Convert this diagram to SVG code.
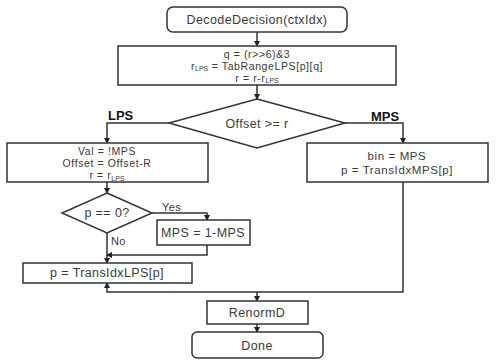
<svg xmlns="http://www.w3.org/2000/svg" width="497" height="361" viewBox="0 0 497 361">
<defs>
<marker id="ah" markerWidth="6" markerHeight="6" refX="5" refY="3" orient="auto" markerUnits="userSpaceOnUse">
<path d="M0,0 L6,3 L0,6 Z" fill="#222"/>
</marker>
<style>
.box{fill:#fff;stroke:#333;stroke-width:1.5}
.ln{fill:none;stroke:#333;stroke-width:1.5;marker-end:url(#ah)}
text{font-family:"Liberation Sans","Noto Sans CJK KR",sans-serif;font-size:12.5px;letter-spacing:0.4px;fill:#3a3a3a;text-anchor:middle}
.ml{font-size:10.5px;letter-spacing:0.6px}
.sub{font-size:7px;letter-spacing:0}
.lbl{font-weight:bold;font-size:13px;letter-spacing:0;fill:#111;text-anchor:start}
.sm{font-size:11px;text-anchor:start}
</style>
</defs>
<rect width="497" height="361" fill="#fff"/>
<g id="connectors">
<path class="ln" d="M257,32 L257,46"/>
<path class="ln" d="M257,85 L257,99"/>
<path class="ln" d="M169,123 L107,123 L107,143"/>
<path class="ln" d="M345,123 L403,123 L403,143"/>
<path class="ln" d="M107,182 L107,193"/>
<path class="ln" d="M152,213 L207,213 L207,220"/>
<path class="ln" d="M107,233 L107,263"/>
<path class="ln" d="M207,245 L207,255 L107,255"/>
<path class="ln" d="M403,182 L403,292 L107,292 L107,283"/>
<path class="ln" d="M257,292 L257,301"/>
<path class="ln" d="M257,324 L257,332"/>
<text class="lbl" x="108" y="120">LPS</text>
<text class="lbl" x="371" y="121">MPS</text>
<text class="sm" x="162" y="211">Yes</text>
<text class="sm" x="111" y="245">No</text>
</g>
<g id="start">
<rect class="box" x="167" y="7" width="180" height="25" rx="6"/>
<text x="257" y="24">DecodeDecision(ctxIdx)</text>
</g>
<g id="init">
<rect class="box" x="118" y="46" width="278" height="39"/>
<text class="ml" x="257" y="57.5">q = (r&gt;&gt;6)&amp;3</text>
<text class="ml" x="257" y="69.5">r<tspan class="sub" dy="1.5">LPS</tspan><tspan dy="-1.5"> = TabRangeLPS[p][q]</tspan></text>
<text class="ml" x="257" y="81.5">r = r-r<tspan class="sub" dy="1.5">LPS</tspan></text>
</g>
<g id="decision">
<polygon class="box" points="257,99 345,123 257,148 169,123"/>
<text x="257" y="128">Offset &gt;= r</text>
</g>
<g id="lps">
<rect class="box" x="7" y="143" width="201" height="39"/>
<text class="ml" x="107" y="155">Val = !MPS</text>
<text class="ml" x="107" y="167">Offset = Offset-R</text>
<text class="ml" x="107" y="179">r = r<tspan class="sub" dy="1.5">LPS</tspan></text>
</g>
<g id="mps">
<rect class="box" x="307" y="143" width="181" height="39"/>
<text class="ml" x="397" y="160" style="font-size:11.5px">bin = MPS</text>
<text class="ml" x="397" y="174" style="font-size:11.5px">p = TransIdxMPS[p]</text>
</g>
<g id="pzero">
<polygon class="box" points="107,193 152,213 107,233 62,213"/>
<text x="107" y="217">p == 0?</text>
</g>
<g id="swap">
<rect class="box" x="157" y="220" width="93" height="25"/>
<text x="203" y="237">MPS = 1-MPS</text>
</g>
<g id="translps">
<rect class="box" x="23" y="263" width="169" height="20"/>
<text x="107" y="277">p = TransIdxLPS[p]</text>
</g>
<g id="renorm">
<rect class="box" x="207" y="301" width="101" height="23"/>
<text x="257" y="317">RenormD</text>
</g>
<g id="done">
<rect class="box" x="192" y="332" width="131" height="26" rx="5"/>
<text x="257" y="350">Done</text>
</g>
</svg>
